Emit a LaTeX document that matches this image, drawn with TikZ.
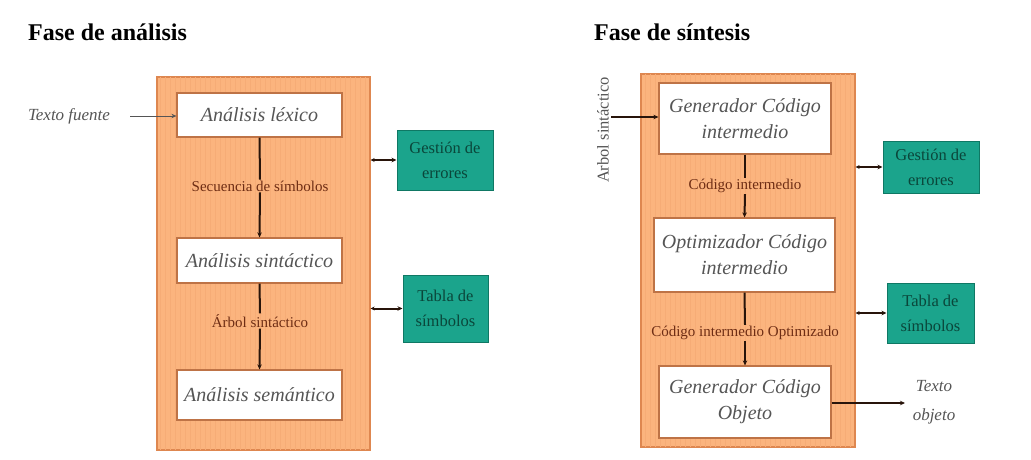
\documentclass[tikz,border=0pt]{standalone}
\usepackage{fontspec}
\setmainfont{Liberation Serif}
\usetikzlibrary{arrows.meta}
\definecolor{orfill}{RGB}{251,180,126}
\definecolor{orgrid}{RGB}{246,172,118}
\definecolor{ordraw}{RGB}{222,135,80}
\definecolor{inbord}{RGB}{190,115,70}
\definecolor{intext}{RGB}{85,85,85}
\definecolor{lbltext}{RGB}{110,45,20}
\definecolor{tealfill}{RGB}{27,164,140}
\definecolor{tealdraw}{RGB}{15,120,100}
\definecolor{tealtext}{RGB}{10,70,58}
\definecolor{conn}{RGB}{40,20,10}
\tikzset{
  phase/.style={draw=ordraw, line width=1.2pt, fill=orfill, inner sep=0pt},
  stagebox/.style={draw=inbord, line width=1.2pt, fill=white, inner sep=0pt, align=center,
    font=\fontsize{20}{26}\selectfont\itshape, text=intext},
  flowlbl/.style={inner sep=1pt, font=\fontsize{15}{17}\selectfont, text=lbltext},
  auxbox/.style={draw=tealdraw, line width=1pt, fill=tealfill, inner sep=0pt, align=center,
    font=\fontsize{16.5}{25}\selectfont, text=tealtext},
  ttl/.style={anchor=west, inner sep=0pt, font=\fontsize{24}{28}\selectfont\bfseries},
  extlbl/.style={inner sep=0pt, align=center, font=\fontsize{17}{29}\selectfont\itshape, text=intext},
  flow/.style={draw=conn, line width=2pt},
  tip/.style={-{Stealth[length=5pt,width=4.5pt]}},
  bitip/.style={{Stealth[length=4pt,width=4pt]}-{Stealth[length=5pt,width=4.5pt]}}
}
\begin{document}
\begin{tikzpicture}[x=1pt,y=-1pt]
\useasboundingbox[fill=white] (0,0) rectangle (1031,460);

% ---------- Left: Fase de analisis ----------
\node[ttl] (titleL) at (28,32) {Fase de análisis};
\node[phase, minimum width=213pt, minimum height=373pt] (orangeL) at (263.5,263.5) {};
\begin{scope}
  \clip (157.6,77.6) rectangle (369.4,449.4);
  \draw[orgrid, line width=0.3pt, step=5] (150.5,70.5) grid (380,460);
\end{scope}
\node[stagebox, minimum width=165pt, minimum height=44pt] (lex) at (259.5,115) {Análisis léxico};
\node[stagebox, minimum width=165pt, minimum height=45pt] (sin) at (259.5,260.5) {Análisis sintáctico};
\node[stagebox, minimum width=165pt, minimum height=50pt] (sem) at (259.5,395) {Análisis semántico};
\node[flowlbl] (l1) at (260,186) {Secuencia de símbolos};
\node[flowlbl] (l2) at (260,321) {Árbol sintáctico};
\draw[flow] (lex.south) -- (l1.north);
\draw[flow, tip] (l1.south) -- (sin.north);
\draw[flow] (sin.south) -- (l2.north);
\draw[flow, tip] (l2.south) -- (sem.north);

\node[extlbl] (fuente) at (69,116) {Texto fuente};
\coordinate (fuenteEnd) at (130,116);
\draw[draw=intext, line width=0.8pt, tip] (fuenteEnd) -- (lex.west |- fuenteEnd);

\node[auxbox, minimum width=96pt, minimum height=60pt] (gestL) at (445,160) {Gestión de\\errores};
\node[auxbox, minimum width=85pt, minimum height=67pt] (tablaL) at (445.5,308.5) {Tabla de\\símbolos};
\draw[flow, bitip] (orangeL.east |- gestL.west) -- (gestL.west);
\draw[flow, bitip] (orangeL.east |- tablaL.west) -- (tablaL.west);

% ---------- Right: Fase de sintesis ----------
\node[ttl] (titleR) at (594,32) {Fase de síntesis};
\node[phase, minimum width=214pt, minimum height=373pt] (orangeR) at (748,260.5) {};
\begin{scope}
  \clip (641.6,74.6) rectangle (854.4,446.4);
  \draw[orgrid, line width=0.3pt, step=5] (635.5,70.5) grid (860,450);
\end{scope}
\node[stagebox, minimum width=172pt, minimum height=71pt] (gci) at (745,118.5) {Generador Código\\intermedio};
\node[stagebox, minimum width=181pt, minimum height=74pt] (opt) at (744.5,255) {Optimizador Código\\intermedio};
\node[stagebox, minimum width=172pt, minimum height=72pt] (gco) at (745,402) {Generador Código\\Objeto};
\node[flowlbl] (l3) at (745,186) {Código intermedio};
\node[flowlbl] (l4) at (745,333) {Código intermedio Optimizado};
\draw[flow] (gci.south) -- (l3.north);
\draw[flow, tip] (l3.south) -- (opt.north);
\draw[flow] (opt.south) -- (l4.north);
\draw[flow, tip] (l4.south) -- (gco.north);

\node[extlbl, rotate=90, font=\fontsize{16.5}{20}\selectfont\upshape] (arbol) at (603,130) {Arbol sintáctico};
\coordinate (arbolEnd) at (611,117);
\draw[flow, tip] (arbolEnd) -- (gci.west |- arbolEnd);

\node[extlbl] (tobj) at (934,402) {Texto\\objeto};
\coordinate (tobjEnd) at (905,403);
\draw[flow, line width=1.5pt, tip] (gco.east |- tobjEnd) -- (tobjEnd);

\node[auxbox, minimum width=96pt, minimum height=52pt] (gestR) at (931,167) {Gestión de\\errores};
\node[auxbox, minimum width=87pt, minimum height=60pt] (tablaR) at (930.5,313) {Tabla de\\símbolos};
\draw[flow, bitip] (orangeR.east |- gestR.west) -- (gestR.west);
\draw[flow, bitip] (orangeR.east |- tablaR.west) -- (tablaR.west);
\end{tikzpicture}
\end{document}
